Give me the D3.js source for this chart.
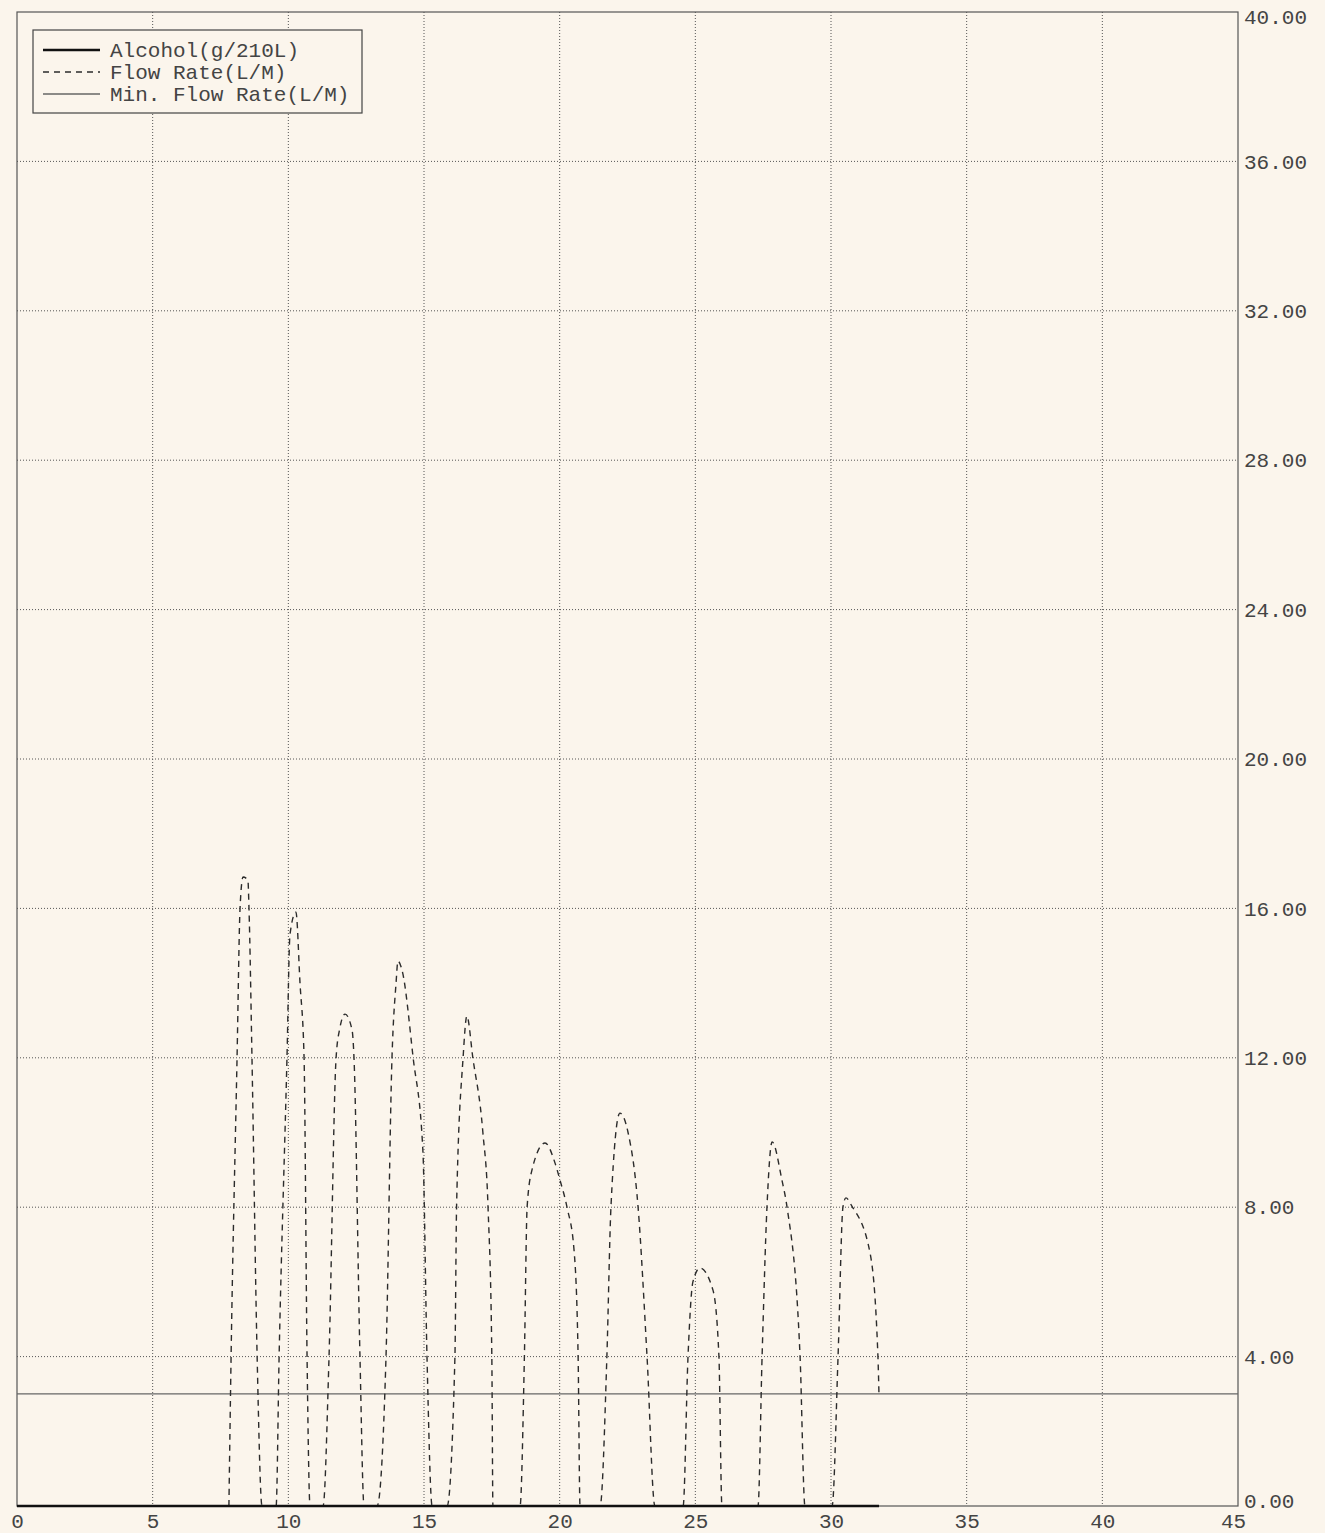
<!DOCTYPE html>
<html>
<head>
	<title>Alcohol and Flow Rate</title>
	<script src="https://d3js.org/d3.v7.min.js"></script>
</head>
<style>
	body{
		margin:0;
		background-color:#fbf5ec;
		font-family:'Liberation Mono', 'Courier New', monospace;
	}
	.tick text{
		font-family:'Liberation Mono', 'Courier New', monospace;
		fill:#444;
	}
</style>
<body>
<div class="screen"></div>
<script>

//DATA

var xTicks = [0, 5, 10, 15, 20, 25, 30, 35, 40, 45];
var yTicks = [0, 4, 8, 12, 16, 20, 24, 28, 32, 36, 40];

var alcoholTime = [0, 31.77];
var alcoholValue = [0, 0];

var minFlowTime = [0, 45];
var minFlowValue = [3, 3];

var flowTime = [
	7.81, 7.89, 8.11, 8.22, 8.33, 8.51, 8.55, 8.66, 8.85, 9.03,
	9.55, 9.66, 9.95, 10.06, 10.28, 10.43, 10.58, 10.69, 10.80,
	11.28, 11.50, 11.76, 11.90, 12.09, 12.35, 12.42, 12.64, 12.79,
	13.27, 13.60, 13.82, 13.97, 14.04, 14.19, 14.60, 14.96, 15.11, 15.30,
	15.85, 16.14, 16.20, 16.44, 16.58, 16.80, 17.17, 17.36, 17.50, 17.54,
	18.54, 18.70, 18.80, 18.98, 19.46, 19.83, 20.01, 20.27, 20.53, 20.68, 20.75,
	21.49, 21.74, 21.89, 22.22, 22.52, 22.89, 23.22, 23.51,
	24.55, 24.73, 24.91, 25.17, 25.65, 25.87, 25.98,
	27.31, 27.46, 27.64, 27.83, 28.19, 28.38, 28.86, 29.04,
	30.04, 30.26, 30.44, 30.55, 30.77, 31.44, 31.73, 31.77
];
var flowRate = [
	0, 4, 12, 16, 16.84, 16.76, 16, 12, 4, 0,
	0, 4, 12, 15.3, 15.9, 14, 12, 4, 0,
	0, 4, 12, 12.8, 13.17, 12.74, 12, 4, 0,
	0, 4, 12, 14, 14.59, 14.35, 12, 9.5, 4, 0,
	0, 4, 8, 12, 13.12, 12, 10, 8, 4, 0,
	0, 4, 8, 9, 9.72, 9.18, 8.73, 8, 6.85, 4, 0,
	0, 4, 8, 10.52, 10, 8, 4, 0,
	0, 4, 6, 6.37, 5.78, 4, 0,
	0, 4, 8, 9.75, 8.73, 8, 4, 0,
	0, 4, 8, 8.25, 8.03, 6.77, 4, 2.92
];

var legendLabels = ["Alcohol(g/210L)", "Flow Rate(L/M)", "Min. Flow Rate(L/M)"];

//SETUP

var width = 1325;
var height = 1533;
var margin = {top:12, right:87, bottom:27, left:17};

var svg = d3.select(".screen")
	.append("svg")
	.attr("width", width)
	.attr("height", height);

svg.append("rect")
	.attr("width", width)
	.attr("height", height)
	.attr("fill", "#fbf5ec");

var x = d3.scaleLinear()
	.domain([0, 45])
	.range([margin.left, width - margin.right]);

var y = d3.scaleLinear()
	.domain([0, 40])
	.range([height - margin.bottom, margin.top]);

//GRID

var grid = svg.append("g");

grid.selectAll(".vgrid")
	.data(xTicks.slice(1, -1))
	.enter()
	.append("line")
	.attr("x1", function(d){ return x(d); })
	.attr("x2", function(d){ return x(d); })
	.attr("y1", y(40))
	.attr("y2", y(0))
	.attr("stroke", "#555")
	.attr("stroke-width", 1)
	.attr("stroke-dasharray", "1,2");

grid.selectAll(".hgrid")
	.data(yTicks.slice(1, -1))
	.enter()
	.append("line")
	.attr("x1", x(0))
	.attr("x2", x(45))
	.attr("y1", function(d){ return y(d); })
	.attr("y2", function(d){ return y(d); })
	.attr("stroke", "#555")
	.attr("stroke-width", 1)
	.attr("stroke-dasharray", "1,2");

svg.append("rect")
	.attr("x", x(0))
	.attr("y", y(40))
	.attr("width", x(45) - x(0))
	.attr("height", y(0) - y(40))
	.attr("fill", "none")
	.attr("stroke", "#555")
	.attr("stroke-width", 1.2);

//AXES

var xAxis = svg.append("g")
	.attr("transform", "translate(0," + y(0) + ")")
	.call(d3.axisBottom(x).tickValues(xTicks).tickSize(0).tickPadding(7).tickFormat(d3.format("d")));
xAxis.select(".domain").remove();
xAxis.selectAll("text").style("font-size", "21px");
// last label sits a little inside the right edge
xAxis.selectAll(".tick").filter(function(d){ return d == 45; }).select("text").attr("dx", "-5");

var yAxis = svg.append("g")
	.attr("transform", "translate(" + x(45) + ",0)")
	.call(d3.axisRight(y).tickValues(yTicks).tickSize(0).tickPadding(6).tickFormat(d3.format(".2f")));
yAxis.select(".domain").remove();
yAxis.selectAll("text")
	.style("font-size", "21px")
	.attr("dy", function(d){
		if(d == 40){ return "0.55em"; }
		if(d == 0){ return "0.05em"; }
		return "0.32em";
	});

//LINES

var line = d3.line()
	.x(function(d){ return x(d[0]); })
	.y(function(d){ return y(d[1]); });

svg.append("path")
	.datum(d3.zip(minFlowTime, minFlowValue))
	.attr("d", line)
	.attr("fill", "none")
	.attr("stroke", "#666")
	.attr("stroke-width", 1.3);

svg.append("path")
	.datum(d3.zip(flowTime, flowRate))
	.attr("d", line.curve(d3.curveMonotoneX))
	.attr("fill", "none")
	.attr("stroke", "#2b2b2b")
	.attr("stroke-width", 1.4)
	.attr("stroke-dasharray", "6,5");

svg.append("path")
	.datum(d3.zip(alcoholTime, alcoholValue))
	.attr("d", line.curve(d3.curveLinear))
	.attr("fill", "none")
	.attr("stroke", "#111")
	.attr("stroke-width", 2.5);

//LEGEND

var legend = svg.append("g")
	.attr("transform", "translate(33,30)");

legend.append("rect")
	.attr("width", 329)
	.attr("height", 83)
	.attr("fill", "#fbf5ec")
	.attr("stroke", "#444")
	.attr("stroke-width", 1.2);

var legendStyles = [
	{color:"#111", width:2.5, dash:null},
	{color:"#2b2b2b", width:1.4, dash:"6,5"},
	{color:"#666", width:1.3, dash:null}
];

legend.selectAll(".key")
	.data(legendLabels)
	.enter()
	.append("line")
	.attr("x1", 10)
	.attr("x2", 67)
	.attr("y1", function(d, i){ return 20 + i * 22; })
	.attr("y2", function(d, i){ return 20 + i * 22; })
	.attr("stroke", function(d, i){ return legendStyles[i].color; })
	.attr("stroke-width", function(d, i){ return legendStyles[i].width; })
	.attr("stroke-dasharray", function(d, i){ return legendStyles[i].dash; });

legend.selectAll(".label")
	.data(legendLabels)
	.enter()
	.append("text")
	.attr("x", 77)
	.attr("y", function(d, i){ return 20 + i * 22; })
	.attr("dy", "0.35em")
	.style("font-size", "21px")
	.attr("fill", "#444")
	.text(function(d){ return d; });

</script>
</body>
</html>
